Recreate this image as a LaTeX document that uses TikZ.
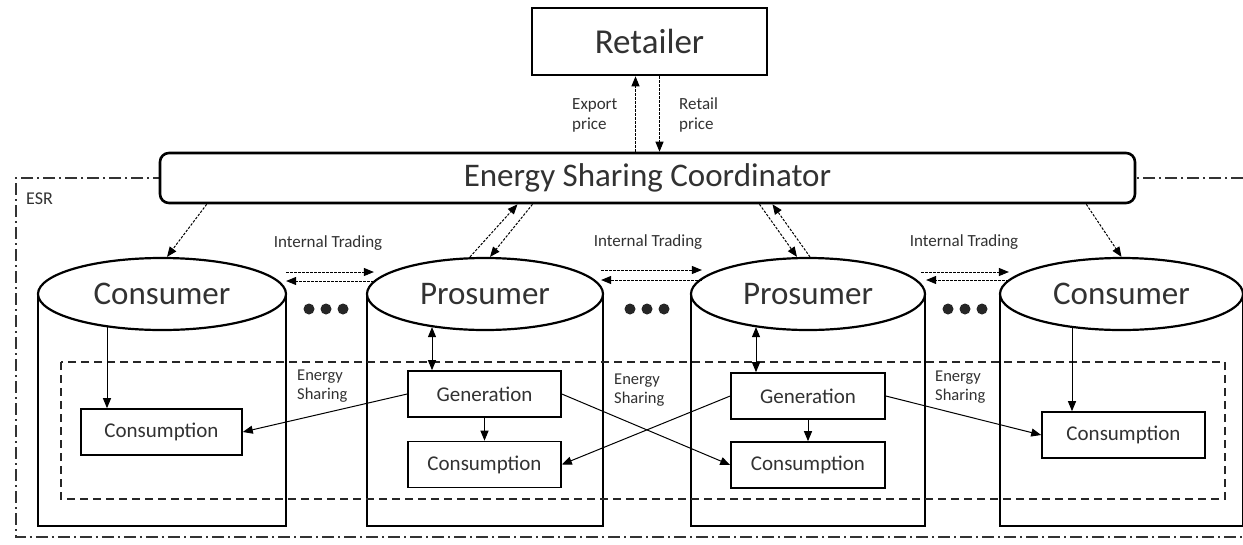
\documentclass[tikz,border=0pt]{standalone}
\usepackage{fontspec}
\setmainfont{Carlito}
\usetikzlibrary{arrows.meta,calc,shapes.geometric}
\definecolor{txt}{RGB}{50,50,50}
\tikzset{
  cyl/.style={line width=2.2pt},
  top/.style={ellipse, draw, line width=2.2pt, fill=white, inner sep=0pt, minimum height=72pt, text=txt, font=\fontsize{33}{36}\selectfont},
  inbox/.style={draw, line width=1.6pt, fill=white, minimum height=46pt, inner sep=0pt, text=txt, font=\fontsize{21}{24}\selectfont},
  bigbox/.style={draw, line width=2.6pt, fill=white, inner sep=0pt, text=txt},
  tip/.style={-{Triangle[length=10pt,width=8pt]}, line width=1pt},
  dtip/.style={tip, dash pattern=on 2.5pt off 1.5pt},
  bitip/.style={{Triangle[length=10pt,width=8pt]}-{Triangle[length=10pt,width=8pt]}, line width=1pt},
  lbl/.style={text=txt, inner sep=0pt, font=\fontsize{17}{20}\selectfont},
  dotm/.style={circle, fill=black!85, inner sep=0pt, minimum size=11pt}
}
\begin{document}
\begin{tikzpicture}[x=1pt,y=-1pt]
\useasboundingbox (0,0) rectangle (1243,544);
\fill[white] (0,0) rectangle (1243,544);

% ESR region
\draw[line width=1.4pt, black!80, dash pattern=on 12pt off 4pt on 2pt off 4pt]
  (1243,178) -- (16,178) -- (16,537) -- (1243,537);
\node[lbl, anchor=west, font=\fontsize{18}{20}\selectfont] (esr) at (26,199) {ESR};

% Retailer and coordinator
\node[bigbox, minimum width=235pt, minimum height=67pt, font=\fontsize{35}{40}\selectfont] (ret) at (649.5,41.5) {Retailer};
\node[bigbox, rounded corners=9pt, minimum width=975pt, minimum height=50pt, font=\fontsize{33}{38}\selectfont] (esc) at (647.5,178) {Energy Sharing Coordinator};

% cylinder bodies
\draw[cyl] (38,294) -- (38,526) -- (286,526) -- (286,294);
\draw[cyl] (367,294) -- (367,526) -- (603,526) -- (603,294);
\draw[cyl] (691,294) -- (691,526) -- (925,526) -- (925,294);
\draw[cyl] (1000,294) -- (1000,526) -- (1243,526) -- (1243,294);

% cylinder tops
\node[top, minimum width=248pt] (c1) at (162,294) {Consumer};
\node[top, minimum width=236pt] (p1) at (485,294) {Prosumer};
\node[top, minimum width=234pt] (p2) at (808,294) {Prosumer};
\node[top, minimum width=243pt] (c2) at (1121.5,294) {Consumer};

% inner dashed region
\draw[line width=1.6pt, black!85, dash pattern=on 8pt off 5pt] (61,362) rectangle (1225,499);

% inner boxes
\node[inbox, minimum width=161pt] (k1) at (161.5,432) {Consumption};
\node[inbox, minimum width=153pt] (g1) at (484.5,394) {Generation};
\node[inbox, minimum width=153pt] (kp1) at (484.5,464.5) {Consumption};
\node[inbox, minimum width=154pt] (g2) at (808,396) {Generation};
\node[inbox, minimum width=154pt] (kp2) at (808,465) {Consumption};
\node[inbox, minimum width=163pt] (k3) at (1123.5,435) {Consumption};

% retailer arrows
\draw[dtip] ([xshift=-12]esc.north) -- ([xshift=-14]ret.south);
\draw[dtip] ([xshift=10]ret.south) -- ([xshift=12]esc.north);
\node[lbl, anchor=west, align=left] (exp) at (572,115) {Export\\price};
\node[lbl, anchor=west, align=left] (rp) at (679,115) {Retail\\price};

% coordinator arrows
\draw[dtip] ([xshift=48]esc.south west) -- ([xshift=5]c1.north);
\draw[dtip] ([xshift=-15]p1.north) -- ([xshift=-130]esc.south);
\draw[dtip] ([xshift=-115]esc.south) -- ([xshift=5]p1.north);
\draw[dtip] ([xshift=112]esc.south) -- ([xshift=-11]p2.north);
\draw[dtip] ([xshift=2]p2.north) -- ([xshift=125]esc.south);
\draw[dtip] ([xshift=-50]esc.south east) -- (c2.north);

% internal trading
\draw[dtip] ([xshift=-1,yshift=22]c1.east) -- ([xshift=8,yshift=22]p1.west);
\draw[dtip] ([xshift=8,yshift=13]p1.west) -- ([xshift=-1,yshift=13]c1.east);
\draw[dtip] ([xshift=-3,yshift=24]p1.east) -- ([xshift=12,yshift=24]p2.west);
\draw[dtip] ([xshift=12,yshift=14]p2.west) -- ([xshift=-3,yshift=14]p1.east);
\draw[dtip] ([xshift=-5,yshift=22]p2.east) -- ([xshift=10,yshift=22]c2.west);
\draw[dtip] ([xshift=10,yshift=14]c2.west) -- ([xshift=0,yshift=14]p2.east);
\node[lbl] (it1) at (328,243) {Internal Trading};
\node[lbl] (it2) at (648,242) {Internal Trading};
\node[lbl] (it3) at (964,242) {Internal Trading};

% dots
\foreach \cx/\nm in {326/a,647/b,965/c}{
  \node[dotm] (d\nm1) at (\cx-17,309) {};
  \node[dotm] (d\nm2) at (\cx,309) {};
  \node[dotm] (d\nm3) at (\cx+17,309) {};
}

% vertical arrows inside cylinders
\draw[tip] ([xshift=-55,yshift=4]c1.south) -- ([xshift=-54.5]k1.north);
\draw[tip] ([xshift=-49.5,yshift=3]c2.south) -- ([xshift=-51.5]k3.north);
\draw[bitip] ([xshift=-53,yshift=4]p1.south) -- ([xshift=-52.5]g1.north);
\draw[bitip] ([xshift=-52,yshift=4]p2.south) -- ([xshift=-52]g2.north);
\draw[tip] (g1.south) -- (kp1.north);
\draw[tip] (g2.south) -- (kp2.north);

% energy sharing
\draw[tip] (g1.west) -- (k1.east);
\draw[tip] (g1.east) -- (kp2.west);
\draw[tip] (g2.west) -- (kp1.east);
\draw[tip] (g2.east) -- (k3.west);
\node[lbl, anchor=west, align=left, font=\fontsize{16.5}{19}\selectfont] (es1) at (297,386) {Energy\\Sharing};
\node[lbl, anchor=west, align=left, font=\fontsize{16.5}{19}\selectfont] (es2) at (614,390) {Energy\\Sharing};
\node[lbl, anchor=west, align=left, font=\fontsize{16.5}{19}\selectfont] (es3) at (935,387) {Energy\\Sharing};
\end{tikzpicture}
\end{document}
